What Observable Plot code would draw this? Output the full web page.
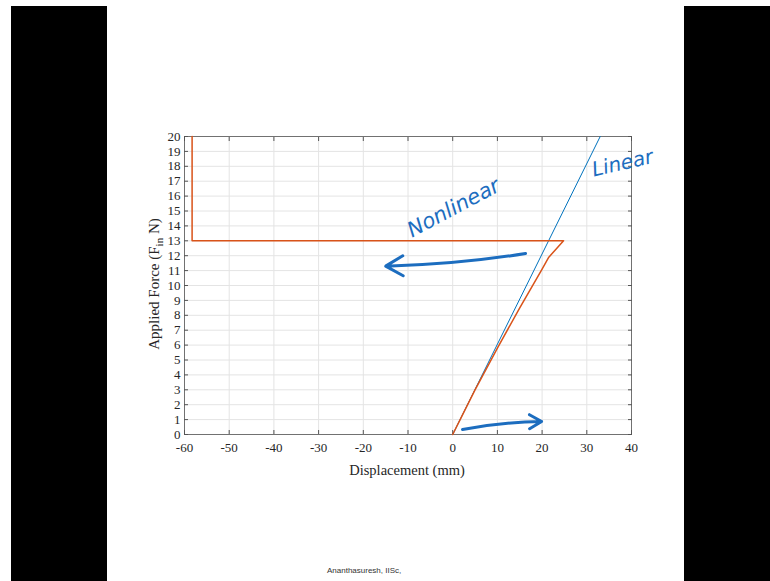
<!DOCTYPE html>
<html><head><meta charset="utf-8">
<script src="https://cdn.jsdelivr.net/npm/d3@7"></script>
<script src="https://cdn.jsdelivr.net/npm/@observablehq/plot@0.6"></script>
<style>
body{margin:0;background:#fff;width:770px;height:581px;overflow:hidden;position:relative}
.bar{position:absolute;background:#000;top:6px;height:575px}
#chart{position:absolute;left:107px;top:0}
#credit{position:absolute;left:327px;top:566px;font:8px "Liberation Sans Narrow","Liberation Sans",sans-serif;color:#333}
</style></head><body>
<div class="bar" style="left:11px;width:96px"></div>
<div class="bar" style="left:684px;width:86px"></div>
<div id="chart"></div>
<div id="credit">Ananthasuresh, IISc,</div>
<script>
const xTicks = [-60, -50, -40, -30, -20, -10, 0, 10, 20, 30, 40];
const yTicks = [0, 1, 2, 3, 4, 5, 6, 7, 8, 9, 10, 11, 12, 13, 14, 15, 16, 17, 18, 19, 20];

const linearDisp = [0, 33];
const linearForce = [0, 20];

const nonlinearDisp = [0, 2, 5, 10, 15, 20, 21.5, 23, 24.8, -58.3, -58.3];
const nonlinearForce = [0, 1.2, 3.0, 5.8, 8.5, 11.1, 11.9, 12.4, 13.0, 13.0, 20];

const noteText = ["Nonlinear", "Linear"];
const noteX = [0.2, 38];
const noteY = [15.2, 18.2];

const arrowX1 = [16.3, 2.2];
const arrowY1 = [12.15, 0.34];
const arrowX2 = [-15.0, 19.9];
const arrowY2 = [11.3, 0.87];

const linear = linearDisp.map((x, i) => ({x, y: linearForce[i]}));
const nonlinear = nonlinearDisp.map((x, i) => ({x, y: nonlinearForce[i]}));
const notes = noteText.map((t, i) => ({t, x: noteX[i], y: noteY[i]}));
const arrows = arrowX1.map((x1, i) => ({x1, y1: arrowY1[i], x2: arrowX2[i], y2: arrowY2[i]}));

const ink = "#1c6dbf";
const fmt = d => String(d);

const chart = Plot.plot({
  width: 577, height: 581,
  marginLeft: 77, marginRight: 53, marginTop: 136, marginBottom: 147,
  style: {fontFamily: '"Liberation Serif", serif', fontSize: "13px", color: "#262626", background: "transparent", overflow: "visible"},
  x: {domain: [-60, 40]},
  y: {domain: [0, 20]},
  marks: [
    Plot.gridX(xTicks, {stroke: "#e4e4e4", strokeOpacity: 1}),
    Plot.gridY(yTicks, {stroke: "#e4e4e4", strokeOpacity: 1}),
    Plot.frame({stroke: "#555", strokeWidth: 0.8}),
    Plot.axisX(xTicks, {anchor: "bottom", tickSize: -4, tickPadding: 12, tickFormat: fmt, label: null, stroke: "#555"}),
    Plot.axisX(xTicks, {anchor: "top", tickSize: -4, tickFormat: () => "", label: null, stroke: "#555"}),
    Plot.axisY(yTicks, {anchor: "left", tickSize: -4, tickPadding: 8, tickFormat: fmt, label: null, stroke: "#555"}),
    Plot.axisY(yTicks, {anchor: "right", tickSize: -4, tickFormat: () => "", label: null, stroke: "#555"}),
    Plot.line(linear, {x: "x", y: "y", stroke: "#0072BD", strokeWidth: 1}),
    Plot.line(nonlinear, {x: "x", y: "y", stroke: "#D95319", strokeWidth: 1.5}),
    Plot.arrow(arrows.slice(0, 1), {x1: "x1", y1: "y1", x2: "x2", y2: "y2", stroke: ink, strokeWidth: 3, bend: 4, headLength: 10}),
    Plot.arrow(arrows.slice(1), {x1: "x1", y1: "y1", x2: "x2", y2: "y2", stroke: ink, strokeWidth: 3, bend: 5, headLength: 7}),
    Plot.text(notes.slice(0, 1), {x: "x", y: "y", text: "t", rotate: -28, fontSize: 21, fontStyle: "italic", fontFamily: '"DejaVu Sans", sans-serif', fill: ink}),
    Plot.text(notes.slice(1), {x: "x", y: "y", text: "t", rotate: -13, fontSize: 20, fontStyle: "italic", fontFamily: '"DejaVu Sans", sans-serif', fill: ink})
  ]
});

const svg = d3.select(chart);
const yl = svg.append("text")
  .attr("transform", "translate(52,284) rotate(-90)")
  .attr("text-anchor", "middle")
  .attr("fill", "#262626")
  .style("font", '15px "Liberation Serif", serif');
yl.append("tspan").text("Applied Force (F");
yl.append("tspan").attr("dy", 4).attr("font-size", 11).text("in");
yl.append("tspan").attr("dy", -4).text(" N)");

svg.append("text")
  .attr("x", 300).attr("y", 475)
  .attr("text-anchor", "middle")
  .attr("fill", "#262626")
  .style("font", '14.5px "Liberation Serif", serif')
  .text("Displacement (mm)");

document.getElementById("chart").appendChild(chart);
</script>
</body></html>
